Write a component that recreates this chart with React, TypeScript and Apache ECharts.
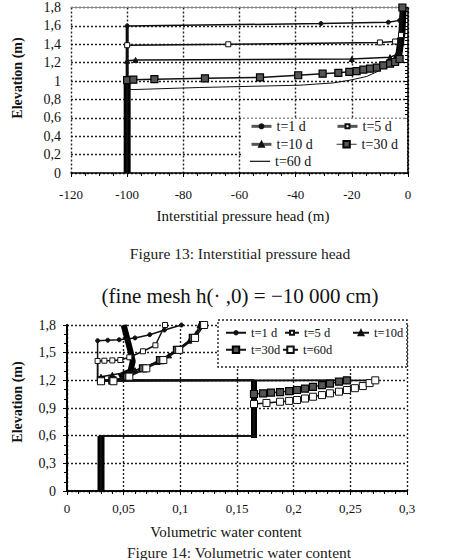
import React, { useEffect, useRef } from "react";
import * as echarts from "echarts";

// ---------- tick values ----------
const topXTicks = [-120, -100, -80, -60, -40, -20, 0];
const topYTicks = [0, 0.2, 0.4, 0.6, 0.8, 1, 1.2, 1.4, 1.6, 1.8];
const botXTicks = [0, 0.05, 0.1, 0.15, 0.2, 0.25, 0.3];
const botYTicks = [0, 0.3, 0.6, 0.9, 1.2, 1.5, 1.8];

// ---------- Figure 13 : pressure head (m) vs elevation (m) ----------
const topNames = ["t=1 d", "t=5 d", "t=10 d", "t=30 d", "t=60 d"];
const topBase = [[-100, 0]];
const top1d = [[-100, 1.6], [-31, 1.625], [-7, 1.64], [-3, 1.66], [-2, 1.8]];
const top5d = [[-100, 1.39], [-64, 1.4], [-10, 1.42], [-4.6, 1.43], [-2.5, 1.5], [-2, 1.8]];
const top10d = [[-100, 1.22], [-97, 1.23], [-20, 1.24], [-6.4, 1.26], [-3, 1.3], [-2, 1.8]];
const top30d = [
  [-100, 1.01], [-97.8, 1.015], [-90.3, 1.02], [-72.3, 1.03], [-52.7, 1.04], [-39.1, 1.063],
  [-30.4, 1.08], [-24.8, 1.09], [-20.9, 1.1], [-18.3, 1.109], [-15.9, 1.124], [-13.5, 1.135],
  [-11.1, 1.146], [-8.8, 1.171], [-6.4, 1.189], [-4.6, 1.207], [-3, 1.24], [-2, 1.8],
];
const top60d = [
  [-100, 0.91], [-97.2, 0.908], [-74.1, 0.93], [-38.5, 0.955], [-26.6, 0.98], [-20.6, 1.01],
  [-14.7, 1.05], [-11.1, 1.1], [-8.8, 1.15], [-7, 1.19], [-4, 1.22], [-2, 1.8],
];
const topBandLeftLow = [[-100, 0], [-100, 1.02]];
const topBandLeftHigh = [[-100, 1.02], [-100, 1.6]];
const topBandRight = [[-4.5, 1.21], [-3.2, 1.3], [-2.2, 1.51], [-1.7, 1.8]];

// ---------- Figure 14 : volumetric water content vs elevation (m) ----------
const botNames = ["t=1 d", "t=5 d", "t=10d", "t=30d", "t=60d"];
const botBase = [[0.03, 0], [0.03, 0.6], [0.165, 0.6], [0.165, 1.2], [0.027, 1.2]];
const botBaseWet = [[0.03, 0], [0.03, 0.6], [0.165, 0.6]];
const bot1d = [[0.027, 1.63], [0.036, 1.635], [0.046, 1.64], [0.06, 1.66], [0.073, 1.695], [0.086, 1.745], [0.101, 1.8]];
const bot5d = [[0.027, 1.41], [0.033, 1.413], [0.04, 1.416], [0.047, 1.42], [0.055, 1.45], [0.067, 1.515], [0.078, 1.58], [0.0865, 1.8]];
const bot10d = [[0.03, 1.24], [0.04, 1.26], [0.05, 1.28], [0.06, 1.31], [0.07, 1.35], [0.08, 1.4], [0.09, 1.47], [0.1, 1.55], [0.108, 1.63], [0.114, 1.71], [0.117, 1.8]];
const bot30d = [
  [0.165, 1.052], [0.173, 1.059], [0.18, 1.066], [0.188, 1.073], [0.196, 1.083], [0.203, 1.095],
  [0.21, 1.11], [0.217, 1.13], [0.225, 1.148], [0.232, 1.165], [0.24, 1.185], [0.247, 1.2],
  [0.03, 1.2], [0.04, 1.2], [0.053, 1.24], [0.067, 1.33], [0.082, 1.42], [0.097, 1.53], [0.111, 1.66], [0.12, 1.8],
];
const bot60d = [
  [0.165, 0.943], [0.176, 0.955], [0.188, 0.968], [0.196, 0.977], [0.203, 0.987], [0.21, 1.003],
  [0.217, 1.022], [0.225, 1.04], [0.232, 1.059], [0.24, 1.077], [0.247, 1.095], [0.254, 1.115],
  [0.261, 1.138], [0.267, 1.17], [0.272, 1.2],
  [0.03, 1.19], [0.041, 1.19], [0.055, 1.24], [0.07, 1.33], [0.085, 1.42], [0.099, 1.53], [0.113, 1.66], [0.121, 1.8],
];
const botBandLow = [[0.03, 0], [0.03, 0.6]];
const botBandMid = [[0.165, 0.575], [0.165, 1.2]];
const botBandTop = [[0.05, 1.8], [0.053, 1.66], [0.056, 1.515], [0.058, 1.406], [0.056, 1.3], [0.046, 1.24]];

const FONT = "Liberation Serif";
const INK = "#111";

const comma = (v: number, d: number) => String(+v.toFixed(d)).replace(".", ",");

export default function App() {
  const ref = useRef<HTMLDivElement>(null);

  useEffect(() => {
    if (!ref.current) return;
    const chart = echarts.init(ref.current, undefined, { renderer: "svg" });

    const noMark = (pts: number[][]) => pts.map((p) => ({ value: p, symbol: "none" }));

    const line = (name: string, xi: number, yi: number, data: any[], symbol: string, size: number, item: any, width = 1.5) => ({
      type: "line",
      name,
      xAxisIndex: xi,
      yAxisIndex: yi,
      data,
      symbol,
      symbolSize: size,
      showSymbol: true,
      itemStyle: item,
      lineStyle: { color: INK, width },
      z: 3,
    });
    const band = (xi: number, yi: number, data: number[][], width: number) => ({
      type: "line",
      xAxisIndex: xi,
      yAxisIndex: yi,
      data,
      symbol: "none",
      lineStyle: { color: "#000", width },
      silent: true,
      z: 2,
    });

    const filled = { color: INK, borderColor: INK, borderWidth: 1 };
    const open = { color: "#fff", borderColor: INK, borderWidth: 1 };
    const boxX = { color: "#555", borderColor: "#000", borderWidth: 1.2 };
    const hidden = { color: "#fff", borderColor: "#fff", borderWidth: 0, opacity: 0 };

    const gridDots = { show: true, lineStyle: { color: "#222", type: [2, 2], width: 1.4 } };

    const leg = (name: string, left: number, cy: number, w: number, h: number, fs: number, extra: any = {}) => ({
      data: [{ name, ...extra }],
      left,
      top: cy - fs * 0.62,
      itemWidth: w,
      itemHeight: h,
      padding: 0,
      selectedMode: false,
      formatter: (n: string) => n.slice(2),
      textStyle: { fontFamily: FONT, fontSize: fs, color: INK },
    });

    const thickGray = { lineStyle: { width: 3, color: "#555" } };

    const option: any = {
      animation: false,
      backgroundColor: "#fff",
      grid: [
        { left: 71, top: 7.5, width: 337, height: 165.5 },
        { left: 67, top: 325, width: 340, height: 166 },
      ],
      xAxis: [
        {
          gridIndex: 0, type: "value", min: topXTicks[0], max: topXTicks[topXTicks.length - 1], interval: 20,
          axisLine: { lineStyle: { color: "#000", width: 1.5 } },
          axisTick: { show: true, length: 4, lineStyle: { color: "#000" } },
          minorTick: { show: true, splitNumber: 4, length: 3, lineStyle: { color: "#000" } },
          axisLabel: { margin: 15, fontFamily: FONT, fontSize: 13, color: INK },
          splitLine: gridDots,
        },
        {
          gridIndex: 0, type: "value", position: "top", min: -120, max: 0,
          axisLine: { lineStyle: { color: "#888", width: 1 } },
          axisTick: { show: false }, axisLabel: { show: false }, splitLine: { show: false },
        },
        {
          gridIndex: 1, type: "value", min: botXTicks[0], max: botXTicks[botXTicks.length - 1], interval: 0.05,
          axisLine: { lineStyle: { color: "#000", width: 1.5 } },
          axisTick: { show: true, length: 4, lineStyle: { color: "#000" } },
          minorTick: { show: true, splitNumber: 5, length: 3, lineStyle: { color: "#000" } },
          axisLabel: { margin: 11, fontFamily: FONT, fontSize: 13, color: INK, formatter: (v: number) => comma(v, 2) },
          splitLine: gridDots,
        },
        {
          gridIndex: 1, type: "value", position: "top", min: 0, max: 0.3,
          axisLine: { lineStyle: { color: "#000", width: 1.5 } },
          axisTick: { show: false }, axisLabel: { show: false }, splitLine: { show: false },
        },
      ],
      yAxis: [
        {
          gridIndex: 0, type: "value", min: topYTicks[0], max: topYTicks[topYTicks.length - 1], interval: 0.2,
          axisLine: { lineStyle: { color: "#000", width: 1.5 } },
          axisTick: { show: true, length: 4, lineStyle: { color: "#000" } },
          minorTick: { show: true, splitNumber: 5, length: 3, lineStyle: { color: "#000" } },
          axisLabel: { margin: 10, fontFamily: FONT, fontSize: 14, color: INK, formatter: (v: number) => comma(v, 1) },
          splitLine: gridDots,
        },
        {
          gridIndex: 1, type: "value", min: botYTicks[0], max: botYTicks[botYTicks.length - 1], interval: 0.3,
          axisLine: { lineStyle: { color: "#000", width: 1.5 } },
          axisTick: { show: true, length: 4, lineStyle: { color: "#000" } },
          minorTick: { show: true, splitNumber: 3, length: 3, lineStyle: { color: "#000" } },
          axisLabel: { margin: 11, fontFamily: FONT, fontSize: 14, color: INK, formatter: (v: number) => comma(v, 1) },
          splitLine: gridDots,
        },
        {
          gridIndex: 1, type: "value", position: "right", min: 0, max: 1.8,
          axisLine: { show: true, lineStyle: { color: "#000", width: 2 } },
          axisTick: { show: false }, axisLabel: { show: false }, splitLine: { show: false },
        },
      ],
      legend: [
        leg("A|" + topNames[0], 250, 128, 20, 5, 14, thickGray),
        leg("A|" + topNames[2], 250, 146, 20, 6, 14, thickGray),
        leg("A|" + topNames[4], 250, 163, 20, 1.2, 14, { icon: "rect", itemStyle: { color: INK, opacity: 1, borderWidth: 0 } }),
        leg("A|" + topNames[1], 336, 128, 20, 5, 14, thickGray),
        leg("A|" + topNames[3], 336, 146, 20, 8, 14, { lineStyle: { width: 1.2, color: "#555" } }),
        leg("B|" + botNames[0], 225, 334, 20, 4, 12.5),
        leg("B|" + botNames[1], 284, 334, 14, 5, 12.5),
        leg("B|" + botNames[2], 352, 334, 16, 6, 12.5),
        leg("B|" + botNames[3], 225, 351, 20, 8, 12.5),
        leg("B|" + botNames[4], 282, 351, 15, 8, 12.5),
      ],
      series: [
        band(0, 0, topBandLeftLow, 7),
        band(0, 0, topBandLeftHigh, 3),
        band(0, 0, topBandRight, 7),
        line("A|" + topNames[0], 0, 0, [...noMark(topBase), ...top1d], "circle", 4, filled),
        line("A|" + topNames[1], 0, 0, [...noMark(topBase), ...top5d], "rect", 5, open),
        line("A|" + topNames[2], 0, 0, [...noMark(topBase), ...top10d], "triangle", 5, filled),
        line("A|" + topNames[3], 0, 0, [...noMark(topBase), ...top30d], "rect", 7, boxX),
        line("A|" + topNames[4], 0, 0, [...topBase, ...top60d], "circle", 0, hidden, 1),

        band(2, 1, botBandLow, 7),
        band(2, 1, botBandMid, 6),
        band(2, 1, botBandTop, 6),
        line("B|" + botNames[0], 2, 1, [...noMark(botBase), ...bot1d], "circle", 4, filled),
        line("B|" + botNames[1], 2, 1, [...noMark(botBase), ...bot5d], "rect", 5, open),
        line("B|" + botNames[2], 2, 1, [...noMark(botBase), ...bot10d], "triangle", 5, filled),
        line("B|" + botNames[3], 2, 1, [...noMark(botBaseWet), ...bot30d], "rect", 7, boxX),
        line("B|" + botNames[4], 2, 1, [...noMark(botBaseWet), ...bot60d], "rect", 7, open),
      ],
      graphic: [
        { type: "rect", z: 3, shape: { x: 241, y: 118.5, width: 166, height: 53 }, style: { fill: "#fff" } },
        {
          type: "rect", z: 3, shape: { x: 218, y: 320, width: 189, height: 47 },
          style: { fill: "#fff", stroke: "#222", lineWidth: 1.4, lineDash: [2, 2] },
        },
        {
          type: "text", x: 17, y: 78, rotation: Math.PI / 2,
          style: { text: "Elevation (m)", fontFamily: FONT, fontSize: 14, fontWeight: "bold", fill: INK, align: "center", verticalAlign: "middle" },
        },
        {
          type: "text", x: 243, y: 216,
          style: { text: "Interstitial pressure head (m)", fontFamily: FONT, fontSize: 15, fill: INK, align: "center", verticalAlign: "middle" },
        },
        {
          type: "text", x: 240, y: 253,
          style: { text: "Figure 13: Interstitial pressure head", fontFamily: FONT, fontSize: 15.5, fill: "#222", align: "center", verticalAlign: "middle" },
        },
        {
          type: "text", x: 240, y: 296,
          style: { text: "(fine mesh h(· ,0) = \u221210 000 cm)", fontFamily: FONT, fontSize: 21, fill: "#111", align: "center", verticalAlign: "middle" },
        },
        {
          type: "text", x: 17, y: 402, rotation: Math.PI / 2,
          style: { text: "Elevation (m)", fontFamily: FONT, fontSize: 14, fontWeight: "bold", fill: INK, align: "center", verticalAlign: "middle" },
        },
        {
          type: "text", x: 226, y: 532,
          style: { text: "Volumetric water content", fontFamily: FONT, fontSize: 15, fill: INK, align: "center", verticalAlign: "middle" },
        },
        {
          type: "text", x: 239, y: 552,
          style: { text: "Figure 14: Volumetric water content", fontFamily: FONT, fontSize: 15.5, fill: "#222", align: "center", verticalAlign: "middle" },
        },
      ],
    };

    chart.setOption(option);
    return () => chart.dispose();
  }, []);

  return <div ref={ref} style={{ position: "absolute", left: 0, top: 0, width: 464, height: 560 }} />;
}
